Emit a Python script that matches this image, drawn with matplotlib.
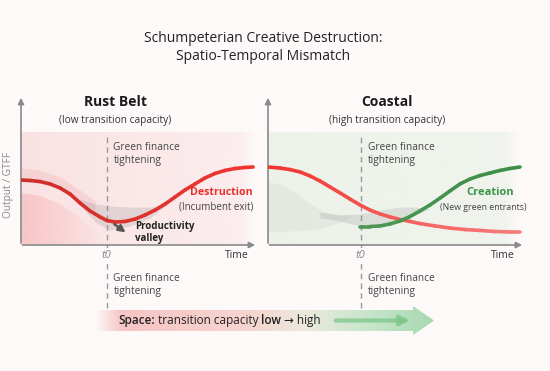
import numpy as np
import matplotlib
matplotlib.use('Agg')
import matplotlib.pyplot as plt
from matplotlib.collections import LineCollection
from matplotlib.colors import to_rgb
from matplotlib.patches import Polygon

plt.rcParams['font.family'] = ['Open Sans', 'DejaVu Sans']

# ---- data ----
T0 = 3.68
# Rust Belt: incumbent output
t_rust = [0, 0.39, 0.82, 1.25, 1.68, 2.11, 2.54, 2.97, 3.40, 3.70, 4.05, 4.48, 4.91, 5.34, 5.77,
          6.20, 6.63, 7.06, 7.49, 7.92, 8.35, 8.78, 9.21, 9.64, 9.99]
y_rust = [4.33, 4.30, 4.23, 4.07, 3.80, 3.40, 2.80, 2.27, 1.87, 1.63, 1.53, 1.57, 1.73, 2.0, 2.33,
          2.73, 3.2, 3.67, 4.07, 4.47, 4.77, 4.97, 5.1, 5.17, 5.2]
# Rust Belt: pre-shock halo above the curve
t_halo = [0, 0.82, 1.68, 2.54, 3.19]
y_halo_hi = [5.13, 5.0, 4.53, 3.67, 2.93]
y_halo_lo = [4.33, 4.23, 3.80, 2.80, 2.33]
# Rust Belt: glow below the curve
t_glow = [0, 0.82, 1.68, 2.54, 3.19, 3.62]
y_glow = [3.47, 3.27, 2.73, 1.8, 0.87, 0.0]
# Rust Belt: valley band
t_rband = [2.54, 3.19, 3.83, 4.69, 5.55, 6.2, 6.63]
y_rband_hi = [3.07, 2.73, 2.6, 2.53, 2.53, 2.67, 3.0]
y_rband_lo = [2.67, 1.53, 1.0, 1.27, 1.8, 2.6, 3.07]
# Coastal: incumbent (destruction)
t_coast_d = [0, 0.48, 0.87, 1.27, 1.67, 2.06, 2.46, 2.86, 3.25, 3.65, 4.05, 4.45, 4.84, 5.24, 5.64,
             6.03, 6.63, 7.22, 7.82, 8.41, 9.01, 9.60, 10.0]
y_coast_d = [5.2, 5.13, 5.03, 4.87, 4.6, 4.27, 3.87, 3.47, 3.07, 2.67, 2.33, 2.07, 1.87, 1.7, 1.57,
             1.43, 1.27, 1.13, 1.03, 0.97, 0.9, 0.87, 0.87]
# Coastal: new entrants (creation)
t_coast_c = [3.65, 4.05, 4.45, 4.84, 5.24, 5.64, 6.03, 6.43, 6.83, 7.22, 7.62, 8.02, 8.41, 8.81,
             9.21, 9.60, 10.0]
y_coast_c = [1.23, 1.23, 1.27, 1.4, 1.6, 1.9, 2.27, 2.67, 3.13, 3.6, 4.07, 4.4, 4.63, 4.8,
             4.97, 5.1, 5.2]
# Coastal: early hill and transition band
t_hill = [0, 0.48, 1.07, 1.67, 2.06, 2.46, 2.86, 3.25]
y_hill_hi = [4.2, 4.07, 3.53, 2.8, 2.33, 2.1, 2.0, 2.03]
y_hill_lo = [0.9, 0.9, 0.95, 1.0, 1.1, 1.3, 1.5, 1.8]
t_cband = [2.06, 2.86, 3.65, 4.45, 5.24, 5.83, 6.43]
y_cband_hi = [2.2, 2.0, 2.07, 2.33, 2.53, 2.53, 2.4]
y_cband_lo = [1.8, 1.6, 1.27, 1.27, 1.6, 2.0, 2.4]

BG = '#fdf9f9'
RED_D, RED_B, RED_L = '#cc2f2b', '#f0352f', '#f77a7a'
GRN_L, GRN_D = '#4f9657', '#3a8f46'

fig = plt.figure(figsize=(5.5, 3.71), dpi=100, facecolor=BG)
bg = fig.add_axes([0, 0, 1, 1], zorder=-5)
bg.set_xlim(0, 550); bg.set_ylim(371, 0); bg.axis('off')

def grad_line(ax, x, y, c0, c1, lw):
    pts = np.column_stack([x, y]).reshape(-1, 1, 2)
    segs = np.concatenate([pts[:-1], pts[1:]], axis=1)
    f = np.linspace(0, 1, len(segs))[:, None]
    cols = (1 - f) * np.array(to_rgb(c0)) + f * np.array(to_rgb(c1))
    lc = LineCollection(segs, colors=cols, linewidths=lw, capstyle='round', joinstyle='round', zorder=5)
    ax.add_collection(lc)

def hgrad(color, a0, a1, n=200, fade=0):
    img = np.zeros((2, n, 4))
    img[..., :3] = to_rgb(color)
    alpha = np.linspace(a0, a1, n)
    if fade:
        alpha[-fade:] *= np.linspace(1, 0, fade)
    img[..., 3] = alpha
    return img

def panel(ax, color, a0, a1, xmax):
    ax.set_xlim(0, 10.2); ax.set_ylim(0, 10)
    ax.set_facecolor('none')
    for s in ax.spines.values():
        s.set_visible(False)
    ax.set_xticks([]); ax.set_yticks([])
    ax.imshow(hgrad(color, a0, a1, fade=12), extent=[0, xmax, 0, 7.47], aspect='auto',
              zorder=0, interpolation='bilinear')
    ax.annotate('', xy=(0, 1), xytext=(0, -0.005), xycoords='axes fraction',
                arrowprops=dict(arrowstyle='-|>', color='#8a8a8a', lw=1.2, mutation_scale=9))
    ax.annotate('', xy=(1, 0), xytext=(-0.005, 0), xycoords='axes fraction',
                arrowprops=dict(arrowstyle='-|>', color='#8a8a8a', lw=1.2, mutation_scale=9))
    ax.axvline(T0, ymin=-0.42, ymax=0.747, color='#9a9a9a', lw=1, ls=(0, (4, 3)), clip_on=False, zorder=2)
    ax.text(T0, -0.67, 't0', style='italic', color='#888888', fontsize=8, ha='center', va='center',
            bbox=dict(boxstyle='square,pad=0.15', fc=BG, ec='none'), zorder=4)
    ax.text(9.8, -0.67, 'Time', color='#333333', fontsize=7.5, ha='right', va='center')
    ax.text(T0 + 0.3, 6.1, 'Green finance\ntightening', color='#444444', fontsize=7.3,
            ha='left', va='center', linespacing=1.25)
    ax.text(T0 + 0.3, -2.67, 'Green finance\ntightening', color='#444444', fontsize=7.3,
            ha='left', va='center', linespacing=1.25, clip_on=False)

# ---- Rust Belt ----
axL = fig.add_axes([21/550, 126/371, 237/550, 150/371])
panel(axL, '#f9d3d5', 0.6, 0.3, 10.05)
glow = axL.fill_between(t_glow, 0, y_glow, color='none', lw=0)
gim = axL.imshow(hgrad('#f5a3a6', 0.45, 0.0), extent=[0, 3.7, 0, 4], aspect='auto',
                 zorder=1, interpolation='bilinear')
gim.set_clip_path(glow.get_paths()[0], transform=axL.transData)
axL.fill_between(t_halo, y_halo_lo, y_halo_hi, color='#f2b3b6', alpha=0.35, lw=0, zorder=2)
axL.fill_between(t_rband, y_rband_lo, y_rband_hi, color='#8c8c8c', alpha=0.22, lw=0, zorder=3)
grad_line(axL, t_rust, y_rust, RED_D, RED_B, 2.6)
axL.text(4.05, 9.53, 'Rust Belt', fontsize=10, fontweight='bold', color='#1a1a1a', ha='center', va='center')
axL.text(4.05, 8.33, '(low transition capacity)', fontsize=7.3, color='#333333', ha='center', va='center')
axL.text(9.98, 3.47, 'Destruction', fontsize=7.6, fontweight='bold', color='#e8302c', ha='right', va='center')
axL.text(9.98, 2.53, '(Incumbent exit)', fontsize=7, color='#444444', ha='right', va='center')
axL.annotate('', xy=(4.6, 0.73), xytext=(3.92, 1.5),
             arrowprops=dict(arrowstyle='-|>', color='#555555', lw=1.8, mutation_scale=10), zorder=6)
axL.text(4.91, 0.83, 'Productivity\nvalley', fontsize=7, fontweight='bold', color='#222222',
         ha='left', va='center', linespacing=1.1)

# ---- Coastal ----
axR = fig.add_axes([268/550, 126/371, 257/550, 150/371])
panel(axR, '#e7f0e4', 0.75, 0.55, 10.0)
axR.fill_between(t_hill, y_hill_lo, y_hill_hi, color='#9a9a9a', alpha=0.1, lw=0, zorder=2)
axR.fill_between(t_cband, y_cband_lo, y_cband_hi, color='#8c8c8c', alpha=0.2, lw=0, zorder=3)
grad_line(axR, t_coast_d, y_coast_d, RED_B, RED_L, 2.6)
grad_line(axR, t_coast_c, y_coast_c, GRN_L, GRN_D, 2.6)
axR.text(4.72, 9.53, 'Coastal', fontsize=10, fontweight='bold', color='#1a1a1a', ha='center', va='center')
axR.text(4.72, 8.33, '(high transition capacity)', fontsize=7.3, color='#333333', ha='center', va='center')
axR.text(8.81, 3.47, 'Creation', fontsize=8, fontweight='bold', color='#3a9446', ha='center', va='center')
axR.text(8.53, 2.53, '(New green entrants)', fontsize=6.3, color='#444444', ha='center', va='center')

fig.text(9/550, 1 - 185/371, 'Output / GTFF', rotation=90, fontsize=7.3, color='#888888', ha='center', va='center')

# ---- title ----
bg.text(263, 39, 'Schumpeterian Creative Destruction:', fontsize=10, color='#222222', ha='center', va='center')
bg.text(263, 57, 'Spatio-Temporal Mismatch', fontsize=10, color='#222222', ha='center', va='center')

# ---- space arrow ----
arrow_pts = [(95, 310), (413, 310), (413, 306), (434, 320.5), (413, 335), (413, 331), (95, 331)]
poly = Polygon(arrow_pts, closed=True, facecolor='none', edgecolor='none')
bg.add_patch(poly)
n = 400
xs = np.linspace(0, 1, n)
stops = [(0.0, '#f7c2c3'), (0.45, '#f6d4cf'), (0.62, '#ece9dc'), (0.8, '#c9e6cc'), (1.0, '#a6d9b0')]
sx = [s[0] for s in stops]
srgb = np.array([to_rgb(s[1]) for s in stops])
grad = np.zeros((2, n, 4))
for k in range(3):
    grad[..., k] = np.interp(xs, sx, srgb[:, k])
grad[..., 3] = np.clip(xs / 0.08, 0, 1)
im = bg.imshow(grad, extent=[95, 434, 336, 305], aspect='auto', interpolation='bilinear', zorder=1)
im.set_clip_path(poly)
bg.annotate('', xy=(413, 320.5), xytext=(333, 320.5),
            arrowprops=dict(arrowstyle='-|>', color='#7cc68a', lw=3, alpha=0.75, mutation_scale=14), zorder=2)

renderer = fig.canvas.get_renderer()
x = 118
for txt, w in [('Space:', 'semibold'), (' transition capacity ', 'normal'), ('low', 'semibold'), (' \u2192 high', 'normal')]:
    t = bg.text(x, 320.5, txt, fontsize=8.5, fontweight=w, color='#222222', ha='left', va='center', zorder=3)
    bb = t.get_window_extent(renderer)
    x += bb.width * 550 / fig.bbox.width

fig.savefig('out.png', dpi=100, facecolor=BG)
